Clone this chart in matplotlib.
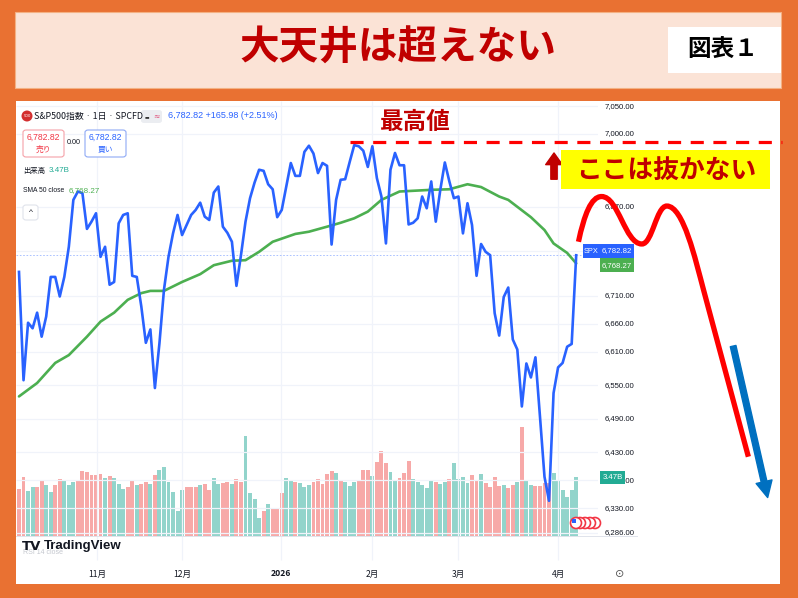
import matplotlib
matplotlib.use('Agg')
import matplotlib.pyplot as plt
from matplotlib.patches import Rectangle, FancyBboxPatch, Circle, PathPatch, FancyArrowPatch
from matplotlib.path import Path
from matplotlib.transforms import blended_transform_factory, IdentityTransform

plt.rcParams['font.family'] = ['Noto Sans CJK JP', 'DejaVu Sans']

# ---------------- data ----------------
close = [6753, 6559, 6662, 6652, 6680, 6637, 6673, 6744, 6744, 6709,
         6744, 6798, 6882, 6897, 6894, 6830, 6843, 6858, 6780, 6798,
         6730, 6735, 6840, 6855, 6858, 6746, 6744, 6691, 6626, 6650,
         6545, 6625, 6721, 6780, 6822, 6855, 6819, 6837, 6855, 6864,
         6877, 6852, 6846, 6895, 6906, 6834, 6823, 6807, 6728, 6783,
         6843, 6885, 6913, 6936, 6934, 6910, 6901, 6851, 6864, 6906,
         6948, 6925, 6925, 6968, 6979, 6965, 6930, 6948, 6943, 6802,
         6882, 6918, 6919, 6950, 6980, 6978, 6970, 6941, 6978, 6921,
         6888, 6804, 6936, 6966, 6944, 6944, 6838, 6841, 6849, 6888,
         6867, 6915, 6843, 6900, 6949, 6915, 6885, 6888, 6822, 6876,
         6837, 6746, 6803, 6789, 6783, 6679, 6639, 6708, 6725, 6632,
         6614, 6512, 6589, 6564, 6600, 6494, 6386, 6343, 6536, 6582,
         6590, 6619, 6624, 6782.82]

volume_b = [2.75, 3.45, 2.67, 2.86, 2.86, 3.24, 3.00, 2.59, 3.00, 3.33,
            3.24, 2.98, 3.18, 3.29, 3.80, 3.76, 3.59, 3.59, 3.65, 3.43,
            3.53, 3.43, 3.08, 2.75, 2.90, 3.29, 3.00, 3.08, 3.20, 3.06,
            3.57, 3.88, 4.04, 3.16, 2.59, 1.45, 2.69, 2.86, 2.86, 2.86,
            3.00, 3.06, 2.71, 3.39, 3.06, 3.10, 3.20, 3.08, 3.33, 3.18,
            5.86, 2.51, 2.18, 1.06, 1.45, 1.90, 1.67, 1.67, 2.55, 3.39,
            3.27, 3.18, 3.12, 2.90, 2.98, 3.18, 3.33, 3.06, 3.65, 3.80,
            3.73, 3.24, 3.16, 2.94, 3.18, 3.25, 3.86, 3.88, 3.51, 4.35,
            5.00, 4.27, 3.76, 3.29, 3.43, 3.69, 4.41, 3.33, 3.18, 3.02,
            2.80, 3.24, 3.18, 3.06, 3.18, 3.37, 4.27, 3.37, 3.45, 3.14,
            3.57, 3.29, 3.65, 3.10, 2.86, 3.45, 2.92, 2.98, 2.84, 2.98,
            3.20, 6.39, 3.29, 3.02, 2.92, 2.94, 3.14, 3.10, 3.73, 3.29,
            2.69, 2.31, 2.71, 3.47]

volume_dir = ("DDUUDDUUDD" "UUUDDDDDDU" "DUUUDDUDDU" "DUUUUUUDDD" "UDDUUDDUDD"
              "UUUUDUDDDU" "UDUUUDDDDD" "UDUUUDDDUD" "DDUUDDDUUU" "UUDUUDUUUU"
              "DDUDDDDUDD" "UDUUDDDDUU" "UUUU")

sma_idx = [0, 4, 8, 11, 15, 18, 21, 24, 27, 29, 32, 34, 36, 40, 43, 47, 50, 53, 56,
           61, 64, 68, 71, 74, 77, 80, 84, 91, 95, 99, 102, 106, 108, 113, 116, 118, 121, 123]
sma_val = [6530, 6554, 6590, 6604, 6637, 6664, 6680, 6703, 6715, 6719, 6719, 6727, 6735,
           6749, 6765, 6773, 6774, 6789, 6807, 6821, 6825, 6834, 6841, 6849, 6861, 6882,
           6897, 6900, 6901, 6910, 6905, 6888, 6882, 6851, 6828, 6804, 6787, 6768.27]

month_idx = [17.2, 36.0, 57.8, 77.9, 96.9, 119.0]
month_lbl = ['11月', '12月', '2026', '2月', '3月', '4月']

grid_levels = [7050, 7000, 6870, 6790, 6710, 6660, 6610, 6550, 6490, 6430, 6380, 6330, 6286]
price_labels = [7050, 7000, 6870, 6710, 6660, 6610, 6550, 6490, 6430, 6380, 6330, 6286]

ath_level = 6986
forecast_idx = [123.5, 128.6, 137.5, 143.0, 151.1, 161.0]
forecast_val = [6807, 6888, 6803, 6871, 6721, 6422]
down_arrow_idx = [157.5, 165.4]
down_arrow_val = [6625, 6344]

last_price = 6782.82
last_sma = 6768.27
last_vol = '3.47B'

# ---------------- figure ----------------
W, H = 798, 598
fig = plt.figure(figsize=(W / 100, H / 100), dpi=100)
fig.patch.set_facecolor('#E97132')
NUM = ['Liberation Sans', 'DejaVu Sans']


def frect(x0, y0, x1, y1, zorder=6, **kw):
    r = Rectangle((x0 / W, 1 - y1 / H), (x1 - x0) / W, (y1 - y0) / H,
                  transform=fig.transFigure, zorder=zorder, **kw)
    fig.patches.append(r)
    return r


def fbox(x0, y0, x1, y1, **kw):
    r = FancyBboxPatch((x0 / W, 1 - y1 / H), (x1 - x0) / W, (y1 - y0) / H,
                       boxstyle='round,pad=0,rounding_size=0.004',
                       transform=fig.transFigure, zorder=6, **kw)
    fig.patches.append(r)
    return r


def fcirc(x, y, r, **kw):
    c = Circle((x, H - y), r, transform=IdentityTransform(), **kw)
    fig.patches.append(c)
    return c


def ftext(x, y, s, **kw):
    kw.setdefault('zorder', 10)
    return fig.text(x / W, 1 - y / H, s, **kw)


# title band
frect(15, 12, 781, 88, zorder=0.5, facecolor='#FBE3D6', edgecolor='#F4B183', lw=0.8)
ftext(398, 48, '大天井は超えない', ha='center', va='center', fontsize=28.5,
      fontweight='bold', color='#C00000')
frect(668, 27, 781, 73, zorder=0.6, facecolor='white', edgecolor='none')
ftext(723, 50, '図表１', ha='center', va='center', fontsize=17, fontweight='bold',
      color='black')

# white chart area
frect(16, 101, 780, 584, zorder=0.5, facecolor='white', edgecolor='none')

# axes mapping
X0, X1, Y0, Y1 = 16, 598, 101, 536
pos = [X0 / W, 1 - Y1 / H, (X1 - X0) / W, (Y1 - Y0) / H]
ax_v = fig.add_axes(pos, zorder=2)
ax = fig.add_axes(pos, zorder=3)
ax.patch.set_alpha(0)
ax_v.patch.set_alpha(0)
xlo, xhi = -0.662, 127.81
ylo, yhi = 6280.0, 7059.1
ax.set_xlim(xlo, xhi)
ax.set_ylim(ylo, yhi)
ax_v.set_xlim(xlo, xhi)
ax_v.set_ylim(0, 25.6)
for a in (ax, ax_v):
    a.axis('off')

idx = list(range(len(close)))

# grid
ax.hlines(grid_levels, xlo, xhi, color='#F0F3FA', lw=0.9, zorder=0)
ax.vlines(month_idx, 6237, yhi, color='#F0F3FA', lw=0.9, zorder=0, clip_on=False)

# volume
vcol = ['#F7A9A8' if d == 'D' else '#92D4CB' for d in volume_dir]
ax_v.bar(idx, volume_b, width=0.86, color=vcol, edgecolor='none')

# price & sma
ax.hlines(last_price, xlo, xhi, color='#2962FF', lw=0.6, linestyles=(0, (2, 2)), alpha=0.45)
ax.plot(sma_idx, sma_val, color='#4CAF50', lw=1.9, zorder=4, solid_capstyle='round')
ax.plot(idx, close, color='#2962FF', lw=1.9, zorder=5, solid_joinstyle='round')

# pane separators
frect(16, 536, 638, 536.8, facecolor='#E0E3EB', edgecolor='none')
frect(637.5, 101, 638.3, 584, facecolor='#E0E3EB', edgecolor='none')

# price scale labels
tr_p = blended_transform_factory(fig.transFigure, ax.transData)
for p in price_labels:
    ax.text(605 / W, p, f'{p:,.2f}', transform=tr_p, ha='left', va='center',
            fontsize=5.6, color='#131722', family=NUM, zorder=3, clip_on=False)

# last-value labels
frect(583, 244, 599.5, 257.5, facecolor='#2962FF', edgecolor='none', zorder=7)
frect(600, 244, 634, 257.5, facecolor='#2962FF', edgecolor='none', zorder=7)
ftext(591.2, 251, 'SPX', ha='center', va='center', fontsize=5.3, color='white', family=NUM)
ftext(617, 251, f'{last_price:,.2f}', ha='center', va='center', fontsize=5.6, color='white',
      family=NUM)
frect(600, 258.5, 634, 272, facecolor='#4CAF50', edgecolor='none', zorder=7)
ftext(617, 265.5, f'{last_sma:,.2f}', ha='center', va='center', fontsize=5.6, color='white',
      family=NUM)
frect(600, 471, 625, 484, facecolor='#22AB94', edgecolor='none', zorder=7)
ftext(612.5, 477.5, last_vol, ha='center', va='center', fontsize=5.6, color='white',
      family=NUM)

# time axis labels
tr_t = blended_transform_factory(ax.transData, fig.transFigure)
for m, lbl in zip(month_idx, month_lbl):
    ax.text(m, 1 - 574 / H, lbl, transform=tr_t, ha='center', va='center', fontsize=6.2,
            color='#131722', fontweight='bold' if lbl == '2026' else 'normal', clip_on=False)
ftext(619.5, 574, '⊙', ha='center', va='center', fontsize=8, color='#555555',
      family=['DejaVu Sans'])

# header (TradingView legend)
fcirc(27, 116, 5.5, facecolor='#D32F2F', edgecolor='none', zorder=6)
ftext(27, 116, '500', ha='center', va='center', fontsize=2.8, color='white',
      family=['DejaVu Sans'])
ftext(34, 116, 'S&P500指数 · 1日 · SPCFD', ha='left', va='center', fontsize=6.4,
      color='#131722')
fbox(141, 110, 162, 123, facecolor='#EBEDF1', edgecolor='none')
ftext(146.5, 116.3, '▬', ha='center', va='center', fontsize=3.5, color='#333333',
      family=['DejaVu Sans'])
ftext(156, 116, '≈', ha='center', va='center', fontsize=5.5, color='#E0507A',
      family=['DejaVu Sans'])
ftext(168, 116, '6,782.82 +165.98 (+2.51%)', ha='left', va='center', fontsize=6.5,
      color='#2962FF', family=NUM)

fbox(23, 130, 64, 157, facecolor='white', edgecolor='#F5A1A8', lw=0.8)
ftext(43.5, 137.5, '6,782.82', ha='center', va='center', fontsize=6.2, color='#F23645',
      family=NUM)
ftext(43.5, 149.5, '売り', ha='center', va='center', fontsize=5.6, color='#F23645')
ftext(74, 143, '0.00', ha='center', va='center', fontsize=5.2, color='#131722', family=NUM)
fbox(85, 130, 126, 157, facecolor='white', edgecolor='#8EA9F5', lw=0.8)
ftext(105.5, 137.5, '6,782.82', ha='center', va='center', fontsize=6.2, color='#2962FF',
      family=NUM)
ftext(105.5, 149.5, '買い', ha='center', va='center', fontsize=5.6, color='#2962FF')

ftext(23, 170.5, '出来高', ha='left', va='center', fontsize=5.3, color='#131722')
ftext(49, 170.5, last_vol, ha='left', va='center', fontsize=5.8, color='#22AB94', family=NUM)
ftext(23, 190.5, 'SMA 50 close', ha='left', va='center', fontsize=4.9, color='#131722',
      family=NUM)
ftext(69, 190.5, f'{last_sma:,.2f}', ha='left', va='center', fontsize=5.8, color='#4CAF50',
      family=NUM)
fbox(23, 205, 38, 220, facecolor='white', edgecolor='#E0E3EB', lw=0.8)
ftext(30.5, 213, '^', ha='center', va='center', fontsize=6, color='#131722', family=NUM)

# TradingView watermark
ftext(23, 553, 'RSI 14 close', ha='left', va='center', fontsize=5.0, color='#C5C8CF',
      family=NUM, zorder=9)
ftext(22, 546, 'TV', ha='left', va='center', fontsize=9.5, fontweight='bold',
      color='#131722', family=['DejaVu Sans'])
ftext(44, 546, 'TradingView', ha='left', va='center', fontsize=9.5, fontweight='bold',
      color='#131722', family=NUM)

# event flags
for cx in (595, 590, 585, 580, 576):
    fcirc(cx, 523, 5.5, facecolor='white', edgecolor='#F23645', lw=1.2, zorder=8)
frect(571.5, 518.5, 576, 523, facecolor='#2962FF', edgecolor='none', zorder=9)

# ---------------- annotations ----------------
ax.hlines(ath_level, 73.1, 168.4, color='#FF0000', lw=2.3, linestyles=(0, (4.1, 3.0)),
          clip_on=False, zorder=9)
ftext(415, 122, '最高値', ha='center', va='center', fontsize=17, fontweight='bold',
      color='#C00000', zorder=10)

arr_up = FancyArrowPatch((118.1, 6914), (118.1, 6971), transform=ax.transData,
                         arrowstyle='simple,head_length=0.7,head_width=1.0,tail_width=0.38',
                         mutation_scale=12, color='#C00000', clip_on=False, zorder=10)
ax.add_patch(arr_up)

frect(561, 150, 770, 189, facecolor='#FFFF00', edgecolor='none', zorder=9)
ftext(666, 170, 'ここは抜かない', ha='center', va='center', fontsize=18.5,
      fontweight='bold', color='#C00000', zorder=10)

# forecast curve (Bezier through the sketched turning points)
P = list(zip(forecast_idx, forecast_val))
verts = [P[0]]
codes = [Path.MOVETO]
(x0, y0), (x1, y1) = P[0], P[1]
verts += [(x0 + 0.25 * (x1 - x0), y0 + 0.6 * (y1 - y0)), (x1 - 0.45 * (x1 - x0), y1), (x1, y1)]
for k in (1, 2):
    (x0, y0), (x1, y1) = P[k], P[k + 1]
    verts += [(x0 + 0.42 * (x1 - x0), y0), (x1 - 0.42 * (x1 - x0), y1), (x1, y1)]
(x0, y0), (x1, y1), (x2, y2) = P[3], P[4], P[5]
verts += [(x0 + 0.45 * (x1 - x0), y0), (x1 - 0.18 * (x2 - x1), y1 - 0.18 * (y2 - y1)), (x1, y1)]
codes += [Path.CURVE4] * 12
verts.append(P[5])
codes.append(Path.LINETO)
ax.add_patch(PathPatch(Path(verts, codes), facecolor='none', edgecolor='#FF0000', lw=3.8,
                       clip_on=False, zorder=11, capstyle='butt'))

arr_dn = FancyArrowPatch((down_arrow_idx[0], down_arrow_val[0]),
                         (down_arrow_idx[1], down_arrow_val[1]), transform=ax.transData,
                         arrowstyle='simple,head_length=0.9,head_width=0.9,tail_width=0.32',
                         mutation_scale=13, color='#0070C0', clip_on=False, zorder=11)
ax.add_patch(arr_dn)

fig.savefig('out.png', dpi=100, facecolor=fig.get_facecolor())
